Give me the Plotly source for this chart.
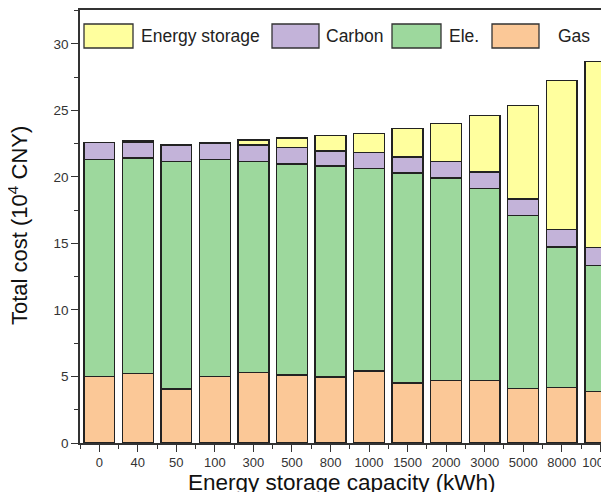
import plotly.graph_objects as go

categories = ["0", "40", "50", "100", "300", "500", "800", "1000", "1500",
              "2000", "3000", "5000", "8000", "10000"]
gas = [5.00, 5.22, 4.07, 5.00, 5.32, 5.12, 4.97, 5.40, 4.52, 4.69, 4.69, 4.09, 4.19, 3.87]
ele = [16.33, 16.19, 17.09, 16.33, 15.84, 15.86, 15.84, 15.23, 15.79, 15.24, 14.44, 13.03, 10.55, 9.46]
carbon = [1.24, 1.20, 1.23, 1.19, 1.23, 1.23, 1.13, 1.21, 1.20, 1.23, 1.25, 1.23, 1.30, 1.35]
storage = [0.00, 0.08, 0.07, 0.08, 0.40, 0.73, 1.18, 1.43, 2.13, 2.84, 4.22, 7.03, 11.19, 14.01]

series_names = ["Gas", "Ele.", "Carbon", "Energy storage"]
series_values = [gas, ele, carbon, storage]
series_colors = ["#FBC897", "#9DD89D", "#C3B3D9", "#FFFF9E"]

x_title = "Energy storage capacity (kWh)"
y_title = "Total cost (10<sup>4</sup> CNY)"

x_idx = list(range(len(categories)))

fig = go.Figure()
for name, vals, col in zip(series_names, series_values, series_colors):
    fig.add_trace(go.Bar(
        x=x_idx, y=vals, name=name, width=0.8,
        marker=dict(color=col, line=dict(color="#222222", width=1.4)),
        showlegend=False,
    ))

OFF = 8  # default page body margin
W, H = 609 - OFF, 492 - OFF
ML, MR, MT, MB = 80 - OFF, 0, 10 - OFF, 49
PW, PH = W - ML - MR, H - MT - MB
SPACING = 38.54  # px per category in the reference
FONT = "Liberation Sans, Arial"


def px_x(p):
    return (p - OFF - ML) / PW


def px_y(p):
    return (H - MB - (p - OFF)) / PH


# legend drawn as boxes + labels (order as in reference)
legend_items = [
    ("Energy storage", "#FFFF9E", 84, 133, 139),
    ("Carbon", "#C3B3D9", 272, 319, 324),
    ("Ele.", "#9DD89D", 392, 441, 447),
    ("Gas", "#FBC897", 492, 539, 556),
]
shapes = []
annotations = []
for label, col, x0, x1, tx in legend_items:
    shapes.append(dict(type="rect", xref="paper", yref="paper",
                       x0=px_x(x0), x1=px_x(x1), y0=px_y(48), y1=px_y(24),
                       fillcolor=col, line=dict(color="#333333", width=1.3)))
    annotations.append(dict(xref="paper", yref="paper", x=px_x(tx), y=px_y(36),
                            text=label, showarrow=False, xanchor="left", yanchor="middle",
                            font=dict(family=FONT, size=17.5, color="#222222")))

# axis titles placed as in the reference
annotations.append(dict(xref="paper", yref="paper", x=px_x(342), y=px_y(482),
                        text=x_title, showarrow=False, xanchor="center", yanchor="middle",
                        font=dict(family=FONT, size=22.5, color="#111111")))
annotations.append(dict(xref="paper", yref="paper", x=px_x(18), y=px_y(226),
                        text=y_title, showarrow=False, xanchor="center", yanchor="middle",
                        textangle=-90,
                        font=dict(family=FONT, size=22, color="#111111")))

fig.update_layout(
    barmode="stack",
    width=W, height=H,
    margin=dict(l=ML, r=MR, t=MT, b=MB, pad=0, autoexpand=False),
    paper_bgcolor="white", plot_bgcolor="white",
    font=dict(family=FONT, color="#333333"),
    shapes=shapes,
    annotations=annotations,
    xaxis=dict(
        automargin=False,
        range=[-0.5, PW / SPACING - 0.5],
        tickmode="array", tickvals=x_idx, ticktext=categories,
        ticklabeloverflow="allow",
        ticks="outside", ticklen=7, tickwidth=1.3, tickcolor="#333333",
        minor=dict(ticks="outside", ticklen=4, tickwidth=1.3, tickcolor="#333333",
                   tick0=0.5, dtick=1, showgrid=False),
        showline=True, linecolor="#333333", linewidth=1.5, mirror=True,
        showgrid=False, zeroline=False,
        tickfont=dict(size=13, color="#333333"),
    ),
    yaxis=dict(
        automargin=False,
        range=[0, 32.55],
        tick0=0, dtick=5,
        ticks="outside", ticklen=7, tickwidth=1.3, tickcolor="#333333",
        minor=dict(ticks="outside", ticklen=4, tickwidth=1.3, tickcolor="#333333",
                   dtick=2.5, showgrid=False),
        showline=True, linecolor="#333333", linewidth=1.5,
        showgrid=False, zeroline=False,
        tickfont=dict(size=13.5, color="#333333"),
    ),
)

fig.write_html("out.html")
